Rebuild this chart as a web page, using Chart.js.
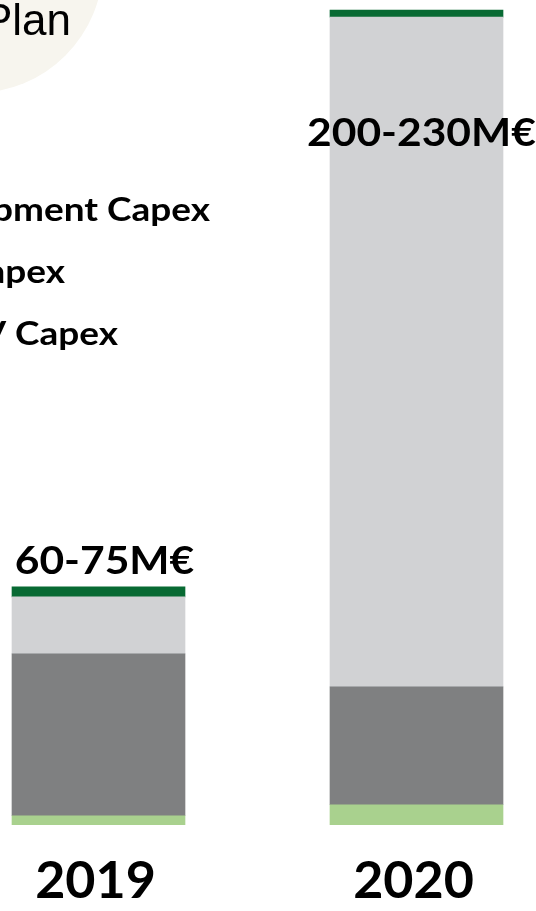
<!DOCTYPE html>
<html>
<head>
<meta charset="utf-8">
<title>Capex Plan</title>
<script src="https://cdn.jsdelivr.net/npm/chart.js@4.4.1/dist/chart.umd.min.js"></script>
<style>
  html, body { margin: 0; padding: 0; background: #fff; }
  canvas { display: block; }
</style>
</head>
<body>
<canvas id="capexChart" width="536" height="911"></canvas>
<script>
// capex per year, M€ (stacked bottom to top)
const years = ['2019', '2020'];
const pvCapex = [2.5, 5.6];
const maintenanceCapex = [45.7, 33.3];
const developmentCapex = [16.1, 189.1];
const rangeCap = [2.8, 2.0];
const rangeLabels = ['60-75M€', '200-230M€'];
const yMax = 230;

const ctxEl = document.getElementById('capexChart');

// slide font is a bit wider than Lato
const TEXT_STRETCH = 1.12;

// beige disc + slide title in the corner
const backdrop = {
    id: 'backdrop',
    beforeDraw(chart) {
        const ctx = chart.ctx;
        ctx.save();
        ctx.fillStyle = '#f7f5ee';
        ctx.beginPath();
        ctx.arc(-25, -35, 128, 0, Math.PI * 2);
        ctx.fill();
        ctx.fillStyle = '#000';
        ctx.font = '44px "Liberation Sans", Arial, sans-serif';
        ctx.textAlign = 'right';
        ctx.textBaseline = 'alphabetic';
        ctx.fillText('Capex Plan', 71, 35);
        ctx.restore();
    }
};

// legend text on the left side of the slide
const sideLegend = {
    id: 'sideLegend',
    afterDraw(chart, args, opts) {
        const ctx = chart.ctx;
        ctx.save();
        ctx.font = 'bold 33px Lato, sans-serif';
        ctx.fillStyle = '#000';
        ctx.textAlign = 'right';
        ctx.textBaseline = 'alphabetic';
        opts.entries.forEach((e, i) => {
            const ds = chart.data.datasets[e.dataset];
            ctx.save();
            ctx.translate(e.x, opts.top + i * opts.spacing);
            ctx.scale(TEXT_STRETCH, 1);
            ctx.fillText(ds.label, 0, 0);
            ctx.restore();
        });
        ctx.restore();
    }
};

// range text for each year's total
const rangeText = {
    id: 'rangeText',
    afterDatasetsDraw(chart, args, opts) {
        const ctx = chart.ctx;
        const meta = chart.getDatasetMeta(chart.data.datasets.length - 1);
        ctx.save();
        ctx.font = 'bold 38px Lato, sans-serif';
        ctx.fillStyle = '#000';
        ctx.textAlign = 'center';
        ctx.textBaseline = 'alphabetic';
        meta.data.forEach((bar, i) => {
            const off = opts.offsets[i];
            ctx.save();
            ctx.translate(bar.x + off.dx, bar.y + off.dy);
            ctx.scale(TEXT_STRETCH, 1);
            ctx.fillText(rangeLabels[i], 0, 0);
            ctx.restore();
        });
        ctx.restore();
    }
};

Chart.defaults.font.family = 'Lato';

new Chart(ctxEl, {
    type: 'bar',
    data: {
        labels: years,
        datasets: [
            { label: 'PV Capex', data: pvCapex, backgroundColor: '#a9d18e' },
            { label: 'Maintenance Capex', data: maintenanceCapex, backgroundColor: '#7f8081' },
            { label: 'Development Capex', data: developmentCapex, backgroundColor: '#d1d2d4' },
            { label: 'Range', data: rangeCap, backgroundColor: '#086a33' }
        ].map(ds => Object.assign(ds, { barThickness: 173, borderWidth: 0, clip: false }))
    },
    options: {
        responsive: false,
        devicePixelRatio: 1,
        animation: false,
        layout: { padding: { left: 98.5, right: 119.5, top: 10, bottom: -26 } },
        plugins: {
            legend: { display: false },
            tooltip: { enabled: false },
            sideLegend: {
                top: 221,
                spacing: 62,
                entries: [ { dataset: 2, x: 210 }, { dataset: 1, x: 65 }, { dataset: 0, x: 118 } ]
            },
            rangeText: {
                offsets: [ { dx: 6, dy: -13 }, { dx: 5, dy: 136 } ]
            }
        },
        scales: {
            x: {
                stacked: true,
                offset: false,
                grid: { display: false, drawTicks: false },
                border: { display: false },
                ticks: {
                    color: '#000',
                    font: { family: 'Lato', size: 52, weight: 'bold' },
                    padding: 25,
                    labelOffset: -3,
                    maxRotation: 0,
                    autoSkip: false
                }
            },
            y: { stacked: true, display: false, min: 0, max: yMax }
        }
    },
    plugins: [backdrop, sideLegend, rangeText]
});
</script>
</body>
</html>
